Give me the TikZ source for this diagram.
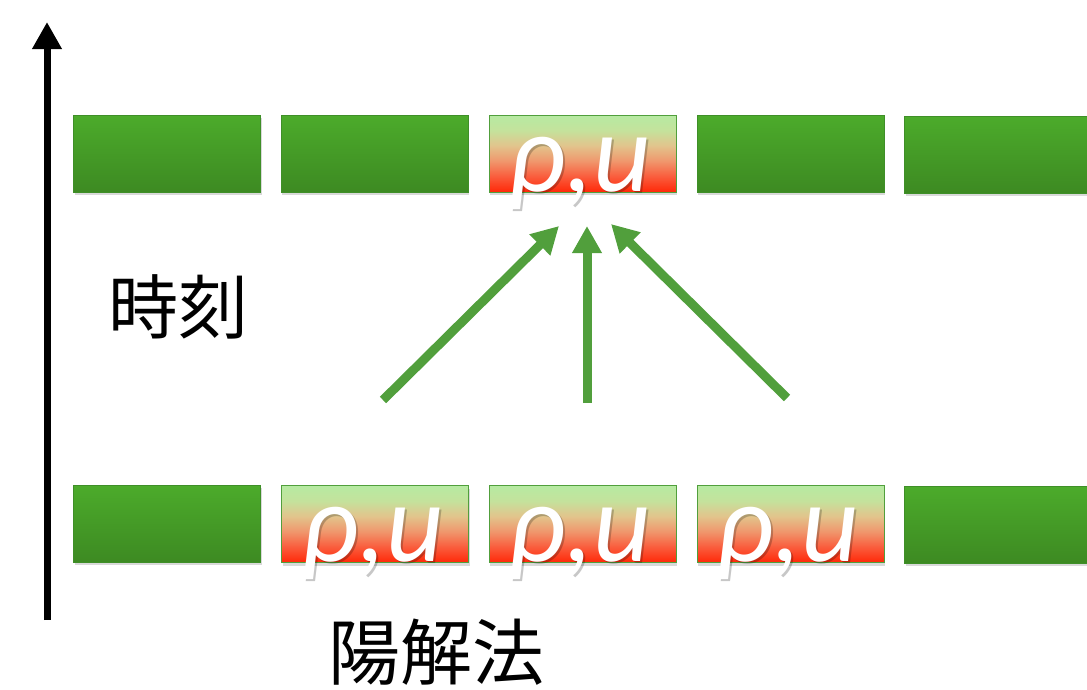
\documentclass[tikz,border=0pt]{standalone}
\usepackage{fontspec}
\setmainfont{Carlito}
\newfontfamily\jpfont{Noto Sans CJK JP}
\usetikzlibrary{arrows.meta,shadows}
\definecolor{cellgreenT}{HTML}{4CAB2B}
\definecolor{cellgreenB}{HTML}{3D8A22}
\definecolor{cellborder}{HTML}{3F8F28}
\definecolor{arrowgreen}{HTML}{519F3C}
\pgfdeclareverticalshading{hotshade}{100bp}{color(0bp)=(rgb,255:red,255;green,40;blue,8); color(25bp)=(rgb,255:red,255;green,40;blue,8); color(35bp)=(rgb,255:red,250;green,92;blue,60); color(45bp)=(rgb,255:red,240;green,150;blue,108); color(55bp)=(rgb,255:red,226;green,196;blue,140); color(65bp)=(rgb,255:red,196;green,226;blue,156); color(75bp)=(rgb,255:red,182;green,234;blue,162); color(100bp)=(rgb,255:red,182;green,234;blue,162)}
\begin{document}
\begin{tikzpicture}[x=1pt,y=-1pt,
  cellbase/.style={draw=cellborder, line width=1pt, minimum width=187pt, minimum height=77pt, inner sep=0pt,
    general shadow={fill=black, opacity=0.15, shadow xshift=1pt, shadow yshift=-3pt}},
  cell/.style={cellbase, top color=cellgreenT, bottom color=cellgreenB},
  hotcell/.style={cellbase, draw=arrowgreen, shading=hotshade},
  varbase/.style={anchor=base, font=\fontsize{112}{112}\selectfont\itshape, inner sep=0pt},
  var/.style={varbase, text=white},
  varshadow/.style={varbase, text=black, text opacity=0.22},
  dep/.style={draw=arrowgreen, line width=9pt, -{Triangle[length=27pt,width=28pt]}},
  lbl/.style={font=\jpfont, inner sep=0pt}]
\useasboundingbox (0,0) rectangle (1087,689);
% top row
\node[cell] (a1) at (167,153.5) {};
\node[cell] (a2) at (374.5,153.5) {};
\node[hotcell] (a3) at (582.5,153.5) {};
\node[cell] (a4) at (790.5,153.5) {};
\node[cell] (a5) at (998,154.5) {};
% bottom row
\node[cell] (b1) at (167,523.5) {};
\node[hotcell] (b2) at (375,524) {};
\node[hotcell] (b3) at (582.5,524) {};
\node[hotcell] (b4) at (790.5,524) {};
\node[cell] (b5) at (998,524.5) {};
% variable shadows
\node[varshadow] (va3s) at (581.5,193.5) {ρ,u};
\node[varshadow] (vb2s) at (374.5,563.5) {ρ,u};
\node[varshadow] (vb3s) at (581.5,563.5) {ρ,u};
\node[varshadow] (vb4s) at (789.5,563.5) {ρ,u};
% variables
\node[var] (va3) at (580,191) {ρ,u};
\node[var] (vb2) at (373,561) {ρ,u};
\node[var] (vb3) at (580,561) {ρ,u};
\node[var] (vb4) at (788,561) {ρ,u};
% dependency arrows
\coordinate (s1) at (383,400);
\coordinate (s2) at (587,403);
\coordinate (s3) at (787,398);
\coordinate (t1) at (559,226);
\coordinate (t2) at (587,226);
\coordinate (t3) at (611,224);
\draw[dep] (s1) -- (t1);
\draw[dep] (s2) -- (t2);
\draw[dep] (s3) -- (t3);
% time axis
\coordinate (ax0) at (47,620);
\coordinate (ax1) at (47,22);
\draw[line width=7pt, -{Triangle[length=27pt,width=28pt]}] (ax0) -- (ax1);
% labels
\node[lbl, font=\jpfont\fontsize{70}{70}\selectfont] (time) at (178,307) {時刻};
\node[lbl, font=\jpfont\fontsize{72}{72}\selectfont] (expl) at (436,652) {陽解法};
\end{tikzpicture}
\end{document}
